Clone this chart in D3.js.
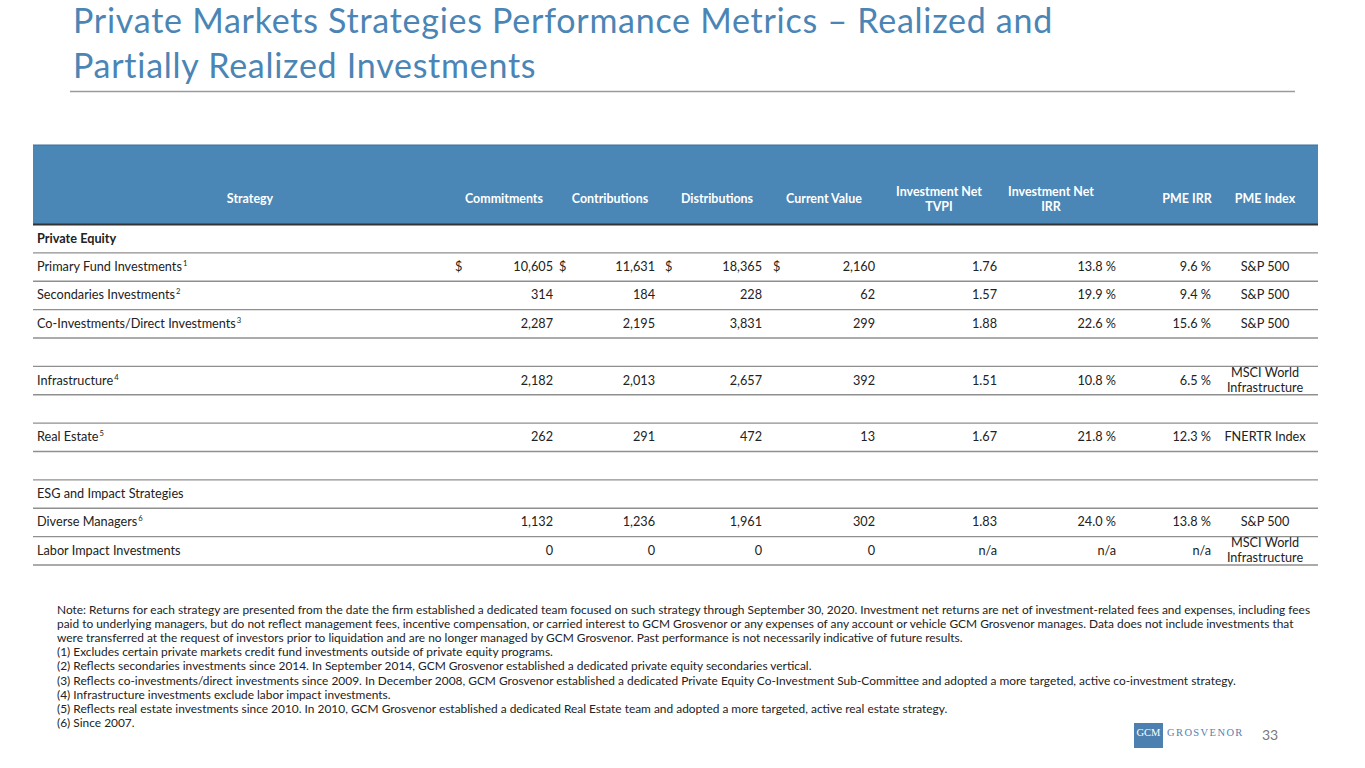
<!DOCTYPE html>
<html><head><meta charset="utf-8">
<script src="https://cdn.jsdelivr.net/npm/d3@7"></script>
<style>body{margin:0;background:#fff}svg{display:block}</style>
</head><body><svg id="c" width="1365" height="768"></svg>
<script>
// ---------- data ----------
const titleLines = ["Private Markets Strategies Performance Metrics \u2013 Realized and", "Partially Realized Investments"];
const headers = [["Strategy"], ["Commitments"], ["Contributions"], ["Distributions"], ["Current Value"], ["Investment Net", "TVPI"], ["Investment Net", "IRR"], ["PME IRR"], ["PME Index"]];
const rowLabels = ["Private Equity", "Primary Fund Investments", "Secondaries Investments", "Co-Investments/Direct Investments", "", "Infrastructure", "", "Real Estate", "", "ESG and Impact Strategies", "Diverse Managers", "Labor Impact Investments"];
const rowKinds = ["sectionBold", "data", "data", "data", "blank", "data", "blank", "data", "blank", "section", "data", "data"];
const footnoteRefs = [null, "1", "2", "3", null, "4", null, "5", null, null, "6", null];
const commitments = [null, 10605, 314, 2287, null, 2182, null, 262, null, null, 1132, 0];
const contributions = [null, 11631, 184, 2195, null, 2013, null, 291, null, null, 1236, 0];
const distributions = [null, 18365, 228, 3831, null, 2657, null, 472, null, null, 1961, 0];
const currentValue = [null, 2160, 62, 299, null, 392, null, 13, null, null, 302, 0];
const netTVPI = [null, 1.76, 1.57, 1.88, null, 1.51, null, 1.67, null, null, 1.83, null];
const netIRR = [null, 13.8, 19.9, 22.6, null, 10.8, null, 21.8, null, null, 24.0, null];
const pmeIRR = [null, 9.6, 9.4, 15.6, null, 6.5, null, 12.3, null, null, 13.8, null];
const pmeIndex = ["", "S&P 500", "S&P 500", "S&P 500", "", "MSCI World|Infrastructure", "", "FNERTR Index", "", "", "S&P 500", "MSCI World|Infrastructure"];
const dollarRows = ["Primary Fund Investments"];
const notes = [
  "Note: Returns for each strategy are presented from the date the firm established a dedicated team focused on such strategy through September 30, 2020. Investment net returns are net of investment-related fees and expenses, including fees",
  "paid to underlying managers, but do not reflect management fees, incentive compensation, or carried interest to GCM Grosvenor or any expenses of any account or vehicle GCM Grosvenor manages. Data does not include investments that",
  "were transferred at the request of investors prior to liquidation and are no longer managed by GCM Grosvenor. Past performance is not necessarily indicative of future results.",
  "(1) Excludes certain private markets credit fund investments outside of private equity programs.",
  "(2) Reflects secondaries investments since 2014. In September 2014, GCM Grosvenor established a dedicated private equity secondaries vertical.",
  "(3) Reflects co-investments/direct investments since 2009. In December 2008, GCM Grosvenor established a dedicated Private Equity Co-Investment Sub-Committee and adopted a more targeted, active co-investment strategy.",
  "(4) Infrastructure investments exclude labor impact investments.",
  "(5) Reflects real estate investments since 2010. In 2010, GCM Grosvenor established a dedicated Real Estate team and adopted a more targeted, active real estate strategy.",
  "(6) Since 2007."
];
const pageNumber = "33";

// ---------- drawing ----------
const svg = d3.select("#c");
const FONT = "Lato, 'Open Sans', sans-serif";
const BLUE = "#4a86b6";
const TEXT = "#222";

function measure(text, size, weight, ls) {
  const t = svg.append("text").attr("font-family", FONT).attr("font-size", size)
    .attr("font-weight", weight || 400).attr("letter-spacing", ls || 0).text(text);
  const w = t.node().getComputedTextLength();
  t.remove();
  return w;
}
function fitSize(text, target, base, weight) {
  return base * target / measure(text, base, weight);
}

// Title: fixed size, letter-spacing tuned so the first line spans the reference width
const titleSize = 34;
const tw = measure(titleLines[0], titleSize, 400, 0);
const titleLS = Math.max(0, (980 - tw) / titleLines[0].length);
svg.selectAll("text.title").data(titleLines).join("text")
  .attr("class", "title")
  .attr("x", 73).attr("y", (d, i) => 33 + i * 45)
  .attr("font-family", FONT).attr("font-size", titleSize).attr("fill", "#4b85b5")
  .attr("letter-spacing", titleLS)
  .text(d => d);
svg.append("line").attr("x1", 70).attr("x2", 1295).attr("y1", 91.5).attr("y2", 91.5)
  .attr("stroke", "#9a9a9a").attr("stroke-width", 1.5);

// Table geometry
const tableLeft = 33, tableRight = 1318;
const y = d3.scaleBand().domain(d3.range(rowLabels.length)).range([224.5, 565]);
const bw = y.bandwidth();
const cellSize = fitSize("Co-Investments/Direct Investments", 199, 12, 400);

// header
svg.append("rect").attr("x", tableLeft).attr("y", 145).attr("width", tableRight - tableLeft).attr("height", 79.5)
  .attr("fill", BLUE);
svg.append("line").attr("x1", tableLeft).attr("x2", tableRight).attr("y1", 145).attr("y2", 145)
  .attr("stroke", "#3d6f98").attr("stroke-width", 1);
svg.append("line").attr("x1", tableLeft).attr("x2", tableRight).attr("y1", 224.5).attr("y2", 224.5)
  .attr("stroke", "#333").attr("stroke-width", 2);

const headerCenters = [250, 504, 610, 717, 824, 939, 1051, 1187, 1265];
headers.forEach((lines, j) => {
  const n = lines.length;
  lines.forEach((ln, k) => {
    svg.append("text").attr("x", headerCenters[j]).attr("y", 203 + (k - (n - 1) / 2) * 15)
      .attr("text-anchor", "middle").attr("font-family", FONT).attr("font-weight", 700)
      .attr("font-size", cellSize * 0.98).attr("fill", "#fff").text(ln);
  });
});

// row lines
svg.selectAll("line.row").data(d3.range(rowLabels.length)).join("line")
  .attr("class", "row")
  .attr("x1", tableLeft).attr("x2", tableRight)
  .attr("y1", i => y(i) + bw).attr("y2", i => y(i) + bw)
  .attr("stroke", "#8f8f8f").attr("stroke-width", 1.3);

// row labels
rowLabels.forEach((lab, i) => {
  if (!lab) return;
  const cy = y(i) + bw / 2 + 4;
  const t = svg.append("text").attr("x", 37).attr("y", cy)
    .attr("font-family", FONT).attr("font-size", cellSize).attr("fill", TEXT)
    .attr("font-weight", rowKinds[i] === "sectionBold" ? 700 : 400).text(lab);
  if (footnoteRefs[i]) {
    t.append("tspan").attr("dx", 1).attr("dy", -5).attr("font-size", cellSize * 0.6).text(footnoteRefs[i]);
  }
});

// numeric columns
const fmtInt = d3.format(",");
const fmtTVPI = d3.format(".2f");
const fmtPct = v => d3.format(".1f")(v) + " %";
const numCols = [
  { vals: commitments, right: 553, fmt: fmtInt, dollarX: 455 },
  { vals: contributions, right: 655, fmt: fmtInt, dollarX: 559 },
  { vals: distributions, right: 762, fmt: fmtInt, dollarX: 665 },
  { vals: currentValue, right: 875, fmt: fmtInt, dollarX: 773 },
  { vals: netTVPI, right: 997, fmt: fmtTVPI },
  { vals: netIRR, right: 1116, fmt: fmtPct },
  { vals: pmeIRR, right: 1211, fmt: fmtPct }
];
numCols.forEach(col => {
  col.vals.forEach((v, i) => {
    if (rowKinds[i] !== "data") return;
    const cy = y(i) + bw / 2 + 4;
    svg.append("text").attr("x", col.right).attr("y", cy).attr("text-anchor", "end")
      .attr("font-family", FONT).attr("font-size", cellSize).attr("fill", TEXT)
      .text(v === null ? "n/a" : col.fmt(v));
    if (col.dollarX !== undefined && dollarRows.includes(rowLabels[i])) {
      svg.append("text").attr("x", col.dollarX).attr("y", cy)
        .attr("font-family", FONT).attr("font-size", cellSize).attr("fill", TEXT).text("$");
    }
  });
});

// PME index
pmeIndex.forEach((s, i) => {
  if (!s) return;
  const parts = s.split("|");
  const n = parts.length;
  parts.forEach((p, k) => {
    svg.append("text").attr("x", 1265).attr("y", y(i) + bw / 2 + 4 + (k - (n - 1) / 2) * 15)
      .attr("text-anchor", "middle").attr("font-family", FONT).attr("font-size", cellSize)
      .attr("fill", TEXT).text(p);
  });
});

// notes
const noteSize = fitSize(notes[0], 1255, 11, 400);
svg.selectAll("text.note").data(notes).join("text")
  .attr("class", "note").attr("x", 57).attr("y", (d, i) => 613.5 + i * 14.2)
  .attr("font-family", FONT).attr("font-size", noteSize).attr("fill", TEXT).text(d => d);

// logo
svg.append("rect").attr("x", 1134).attr("y", 723).attr("width", 29).attr("height", 25).attr("fill", "#4c80b0");
svg.append("text").attr("x", 1148.5).attr("y", 735.5).attr("text-anchor", "middle")
  .attr("font-family", "'Liberation Serif', 'DejaVu Serif', serif").attr("font-size", 10.5)
  .attr("fill", "#fff").text("GCM");
svg.append("text").attr("x", 1167).attr("y", 735.5)
  .attr("font-family", "'Liberation Serif', 'DejaVu Serif', serif").attr("font-size", 10.5)
  .attr("letter-spacing", 1.4).attr("fill", "#5c80a8").text("GROSVENOR");
svg.append("text").attr("x", 1262).attr("y", 740)
  .attr("font-family", FONT).attr("font-size", 14).attr("fill", "#7a7a7a").text(pageNumber);
</script></body></html>
